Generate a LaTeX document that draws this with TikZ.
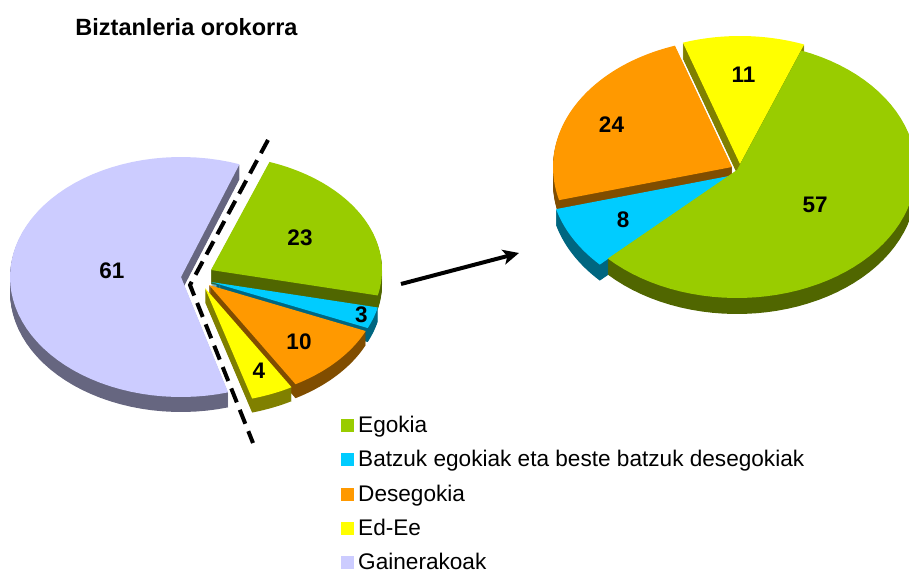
\documentclass[tikz,border=0pt]{standalone}
\usepackage{fontspec}
\setmainfont{Liberation Sans}
\usetikzlibrary{arrows.meta,positioning}

\definecolor{egoTop}{RGB}{153,204,0}
\definecolor{egoSide}{RGB}{80,102,0}
\definecolor{batTop}{RGB}{0,204,255}
\definecolor{batSide}{RGB}{0,102,128}
\definecolor{desTop}{RGB}{255,153,0}
\definecolor{desSide}{RGB}{128,77,0}
\definecolor{edTop}{RGB}{255,255,0}
\definecolor{edSide}{RGB}{128,128,0}
\definecolor{gainTop}{RGB}{204,204,255}
\definecolor{gainSide}{RGB}{102,102,128}

% slice: vertex x, vertex y, x radius, y radius, depth, from, to, top, side
\newcommand{\pieslice}[9]{%
  \foreach \lyr in {#5,...,1}
    \fill[#9] ({#1},{#2+\lyr}) -- plot[domain=#6:#7,samples=60] ({#1+#3*cos(\x)},{#2+\lyr-#4*sin(\x)}) -- cycle;
  \fill[#8] ({#1},{#2}) -- plot[domain=#6:#7,samples=60] ({#1+#3*cos(\x)},{#2-#4*sin(\x)}) -- cycle;
}

\begin{document}
\begin{tikzpicture}[x=1pt,y=-1pt,
	lbl/.style={font=\fontsize{22.5}{27}\selectfont\bfseries},
	titletxt/.style={font=\fontsize{23.5}{28}\selectfont\bfseries,anchor=base,inner sep=0pt},
	legsq/.style={minimum size=13pt,inner sep=0pt,anchor=south west},
	legtxt/.style={font=\fontsize{22.6}{27}\selectfont,anchor=base west,inner sep=0pt},
	cutline/.style={line width=4pt,dash pattern=on 15pt off 8pt},
	bigarrow/.style={line width=4pt,-{Stealth[length=16pt,width=15pt,inset=4pt]}}]
		\clip (0,0) rectangle (909,572);

		% left pie, the four small slices pulled out
		\pieslice{181}{277}{171}{120}{15}{70}{286}{gainTop}{gainSide}
		\pieslice{211}{270}{171}{115}{14}{-12.8}{70}{egoTop}{egoSide}
		\pieslice{211}{282}{171}{115}{14}{-23.6}{-12.8}{batTop}{batSide}
		\pieslice{209}{285}{171}{115}{14}{-59.6}{-23.6}{desTop}{desSide}
		\pieslice{205}{288}{171}{115}{14}{-74}{-59.6}{edTop}{edSide}

		% right pie
		\pieslice{740}{164}{179}{128}{16}{69}{108.6}{edTop}{edSide}
		\pieslice{732}{167}{179}{128}{16}{108.6}{195}{desTop}{desSide}
		\pieslice{729}{176}{179}{128}{16}{195}{223.8}{batTop}{batSide}
		\pieslice{737}{170}{179}{128}{16}{223.8}{429}{egoTop}{egoSide}

		\draw (112,271) node [lbl] (lGain) {61};
		\draw (300,238) node [lbl] (lEgo) {23};
		\draw (361.5,315) node [lbl] (lBat) {3};
		\draw (299,342) node [lbl] (lDes) {10};
		\draw (259,371) node [lbl] (lEd) {4};

		\draw (611.5,125) node [lbl] (rDes) {24};
		\draw (743.5,75) node [lbl] (rEd) {11};
		\draw (815,205) node [lbl] (rEgo) {57};
		\draw (623,220) node [lbl] (rBat) {8};

		\draw (186.5,36) node [titletxt] (title) {Biztanleria orokorra};

		\coordinate (cuttop) at (268,140);
		\coordinate (cutmid) at (190,285);
		\coordinate (cutbot) at (253,443);
		\draw [cutline] (cuttop) -- (cutmid) -- (cutbot);

		\coordinate (arrfrom) at (401,284);
		\coordinate (arrto) at (519,253);
		\draw [bigarrow] (arrfrom) -- (arrto);

		\draw (341,432) node [legsq,fill=egoTop] (kEgo) {};
		\draw (358,432) node [legtxt] (tEgo) {Egokia};
		\draw (341,466.5) node [legsq,fill=batTop] (kBat) {};
		\draw (358,466.5) node [legtxt] (tBat) {Batzuk egokiak eta beste batzuk desegokiak};
		\draw (341,501) node [legsq,fill=desTop] (kDes) {};
		\draw (358,501) node [legtxt] (tDes) {Desegokia};
		\draw (341,535) node [legsq,fill=edTop] (kEd) {};
		\draw (358,535) node [legtxt] (tEd) {Ed-Ee};
		\draw (341,569) node [legsq,fill=gainTop] (kGain) {};
		\draw (358,569) node [legtxt] (tGain) {Gainerakoak};
	\end{tikzpicture}
\end{document}
